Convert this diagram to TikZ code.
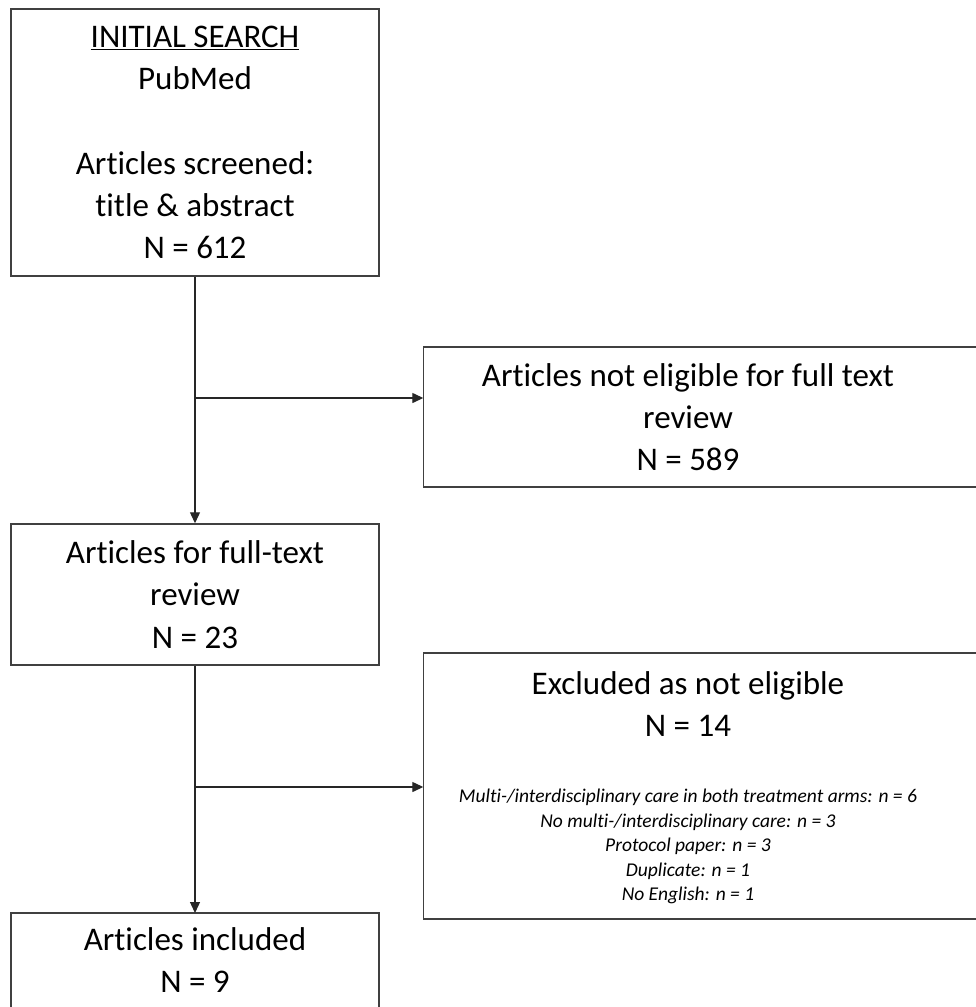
\documentclass[tikz,border=0pt]{standalone}
\usepackage{fontspec}
\setmainfont{Carlito}[Ligatures=NoCommon]
\usetikzlibrary{arrows.meta}
\begin{document}
\begin{tikzpicture}[x=1pt,y=-1pt,
  boxline/.style={draw=black!75,line width=1.5pt},
  conn/.style={draw=black!85,line width=1.3pt},
  arr/.style={conn,-{Triangle[length=11pt,width=10pt]}},
  bigtext/.style={font=\fontsize{33}{42.2}\selectfont,align=center,inner sep=0pt},
  smalltext/.style={font=\fontsize{19.5}{24.5}\selectfont\itshape,align=center,inner sep=0pt},
  leftbox/.style={bigtext,minimum width=368pt},
  rightarea/.style={inner sep=0pt,minimum width=529pt}
]
\useasboundingbox (0,0) rectangle (976,1007);
\coordinate (R) at (976,0);

% left column
\node[leftbox,boxline,minimum height=267pt] (b1) at (195,142.5)
  {\underline{INITIAL SEARCH}\\PubMed\\[42.2pt]Articles screened:\\title \& abstract\\N = 612};
\node[leftbox,boxline,minimum height=141pt] (b3) at (195,594.5)
  {Articles for full-text\\review\\N = 23};
\node[leftbox,anchor=north,minimum height=94pt] (b5) at (195,913)
  {Articles included\\N = 9};
\draw[boxline] (b5.south west) |- (b5.north east) -- (b5.south east);

% right column
\node[rightarea,bigtext,minimum height=140pt] (b2) at (688,417)
  {Articles not eligible for full text\\review\\N = 589};
\draw[boxline] (b2.north west -| R) -- (b2.north west) -- (b2.south west) -- (b2.south west -| R);

\node[rightarea,minimum height=266pt] (b4) at (688,786) {};
\draw[boxline] (b4.north west -| R) -- (b4.north west) -- (b4.south west) -- (b4.south west -| R);
\node[bigtext] (b4t) at (688,704) {Excluded as not eligible\\N = 14};
\node[smalltext] (b4l) at (688,846.5)
  {Multi-/interdisciplinary care in both treatment arms: n = 6\\
   No multi-/interdisciplinary care: n = 3\\
   Protocol paper: n = 3\\
   Duplicate: n = 1\\
   No English: n = 1};

% connectors
\coordinate (j1) at (195,398);
\coordinate (j2) at (195,787);
\draw[arr] (b1.south) -- (b3.north);
\draw[arr] (j1) -- (j1 -| b2.west);
\draw[arr] (b3.south) -- (b5.north);
\draw[arr] (j2) -- (j2 -| b4.west);
\end{tikzpicture}
\end{document}
